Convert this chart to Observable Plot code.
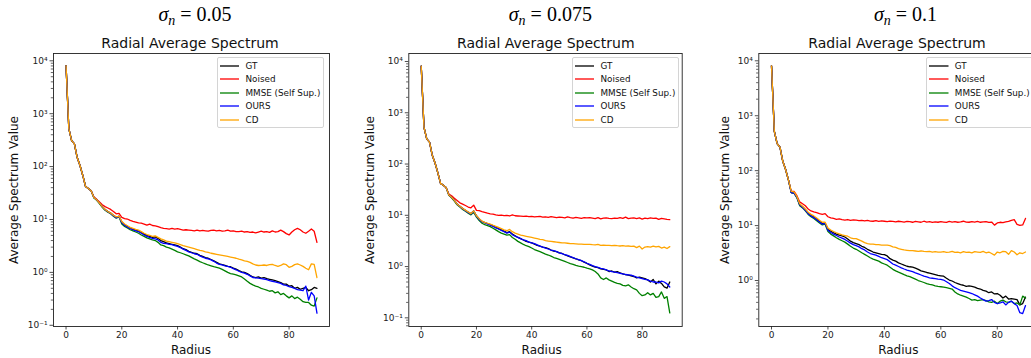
<!DOCTYPE html>
<html>
<head>
<meta charset="utf-8">
<script src="https://cdn.jsdelivr.net/npm/d3@7"></script>
<script src="https://cdn.jsdelivr.net/npm/@observablehq/plot@0.6"></script>
<style>
  html, body { margin: 0; padding: 0; background: #fff; }
  #root { position: relative; width: 1031px; height: 358px; overflow: hidden; background: #fff; }
  .abs { position: absolute; white-space: nowrap; }
  .holder svg { max-width: none !important; display: block; }
  .sigma { font-family: "Liberation Serif", serif; font-size: 20px; line-height: 20px; color: #000; text-align: center; width: 200px; }
  .sigma sub { font-size: 14px; vertical-align: -4px; line-height: 0; }
  .eq { margin: 0 5px; }
  .ttl { font-family: "DejaVu Sans", sans-serif; font-size: 14px; line-height: 14px; color: #111; text-align: center; width: 260px; }
  .alab { font-family: "DejaVu Sans", sans-serif; font-size: 12px; line-height: 14px; color: #111; text-align: center; width: 220px; height: 14px; }
  .legend { font-family: "DejaVu Sans", sans-serif; font-size: 8.8px; color: #111; border: 1px solid #d4d4d4; border-radius: 2px; background: rgba(255,255,255,0.85); box-sizing: border-box; padding: 1px 0 0 2px; }
  .lrow { display: flex; align-items: center; height: 13.45px; }
  .sw { width: 19.5px; height: 4px; margin-right: 6.3px; flex: none; display: block; }
</style>
</head>
<body>
<div id="root"></div>
<script>
// ---------- data ----------
const radius = d3.range(91);
const seriesNames = ["GT", "Noised", "MMSE (Self Sup.)", "OURS", "CD"];
const seriesColors = ["#000000", "#ff0000", "#008000", "#0000ff", "#ffa500"];
const noiseLevels = ["0.05", "0.075", "0.1"];
const xTicks = [0, 20, 40, 60, 80];
const yTickValues = [0.1, 1, 10, 100, 1000, 10000];
const yTickLabels = ["10\u207B\u00B9", "10\u2070", "10\u00B9", "10\u00B2", "10\u00B3", "10\u2074"];

// shared low-radius values (x = 0..6)
const head = [8100, 520, 310, 268, 148, 105, 68];

// ---- sigma = 0.05 (x = 7..90) ----
const gt1Tail = [
42, 38.5, 35,
26, 23.5, 20.5, 17.5, 15.5, 14.2, 13.2, 12.0, 11.0, 11.6,
9.0, 8.0, 7.4, 6.9, 6.6, 6.3, 6.1, 5.7, 5.3, 5.0,
4.8, 4.6, 4.7, 4.4, 4.0, 3.8, 3.6, 3.5, 3.4, 3.3,
3.2, 3.0, 2.8, 2.7, 2.5, 2.4, 2.3, 2.25, 2.1, 2.0,
1.9, 1.85, 1.75, 1.65, 1.55, 1.45, 1.4, 1.35, 1.3, 1.28,
1.2, 1.15, 1.08, 1.02, 1.0, 0.95, 0.88, 0.82, 0.8, 0.82,
0.78, 0.8, 0.76, 0.74, 0.72, 0.7, 0.67, 0.64, 0.6, 0.6,
0.55, 0.56, 0.5, 0.52, 0.48, 0.5, 0.52, 0.45, 0.47, 0.52,
0.5];
const noised1Tail = [
42, 38.5, 35,
26.5, 24, 21.5, 19, 17.5, 16.5, 15.5, 14.2, 12.8, 13.0,
11.0, 10.4, 10.2, 9.6, 9.2, 8.9, 8.6, 8.5, 8.2, 7.8,
8.2, 7.7, 7.6, 7.3, 7.0, 6.8, 6.7, 6.6, 6.8, 6.6,
6.7, 6.5, 6.3, 6.4, 6.3, 6.2, 6.1, 6.3, 6.1, 6.2,
6.1, 6.0, 6.2, 6.3, 6.1, 6.2, 6.0, 6.1, 6.3, 6.0,
6.1, 5.9, 5.9, 6.0, 5.8, 5.9, 5.7, 5.8, 5.6, 5.8,
6.0, 5.8, 5.9, 5.7, 6.1, 5.8, 5.9, 6.3, 5.9, 5.4,
5.1, 5.8, 6.4, 6.8, 6.4, 5.8, 5.5, 6.0, 6.6, 6.0,
3.7];
const mmse1Tail = [
42, 38.5, 35,
25.5, 23, 20, 17, 15.0, 13.8, 12.8, 11.5, 10.6, 11.2,
8.2, 7.4, 6.9, 6.4, 6.1, 5.8, 5.5, 5.1, 4.8, 4.5,
4.3, 4.1, 4.0, 3.7, 3.3, 3.2, 3.0, 2.9, 2.75, 2.6,
2.45, 2.35, 2.25, 2.15, 2.05, 1.92, 1.8, 1.7, 1.6, 1.52,
1.45, 1.38, 1.33, 1.28, 1.24, 1.2, 1.14, 1.07, 1.0, 0.95,
0.93, 0.9, 0.86, 0.82, 0.75, 0.68, 0.62, 0.58, 0.55, 0.53,
0.5, 0.48, 0.46, 0.44, 0.45, 0.41, 0.43, 0.38, 0.4, 0.36,
0.33, 0.36, 0.32, 0.34, 0.31, 0.28, 0.27, 0.27, 0.24, 0.23,
0.33];
const ours1Tail = [
42, 38.5, 35,
26, 23.5, 20.5, 17.5, 15.3, 14.0, 13.0, 11.8, 10.8, 11.4,
8.8, 7.8, 7.2, 6.7, 6.4, 6.1, 5.9, 5.5, 5.1, 4.8,
4.6, 4.4, 4.3, 4.1, 3.7, 3.55, 3.5, 3.4, 3.35, 3.2,
3.1, 2.95, 2.75, 2.6, 2.45, 2.35, 2.25, 2.2, 2.05, 1.95,
1.85, 1.8, 1.72, 1.62, 1.5, 1.42, 1.38, 1.33, 1.3, 1.25,
1.18, 1.12, 1.05, 1.0, 0.97, 0.92, 0.86, 0.8, 0.79, 0.78,
0.76, 0.75, 0.73, 0.7, 0.68, 0.66, 0.64, 0.62, 0.58, 0.57,
0.54, 0.52, 0.5, 0.47, 0.46, 0.45, 0.55, 0.3, 0.42, 0.36,
0.17];
const cd1Tail = [
42, 38.5, 35,
26, 23.5, 20.5, 17.5, 15.5, 14.2, 13.2, 12.0, 11.2, 11.5,
9.2, 8.2, 7.6, 7.1, 6.8, 6.5, 6.3, 5.9, 5.5, 5.2,
5.0, 4.8, 4.9, 4.6, 4.3, 4.1, 3.9, 3.8, 3.7, 3.6,
3.5, 3.35, 3.2, 3.1, 3.0, 2.9, 2.8, 2.7, 2.6, 2.55,
2.45, 2.4, 2.3, 2.25, 2.2, 2.15, 2.1, 2.05, 2.0, 1.95,
1.9, 1.85, 1.78, 1.72, 1.65, 1.62, 1.55, 1.45, 1.38, 1.35,
1.36, 1.38, 1.35, 1.4, 1.42, 1.35, 1.3, 1.35, 1.45, 1.4,
1.25, 1.3, 1.4, 1.45, 1.38, 1.3, 1.2, 1.12, 1.45, 1.42,
0.8];

// ---- sigma = 0.075 (x = 7..90) ----
const gt2Tail = [
42, 38.5, 35,
25, 22.5, 19.5, 16.5, 15.0, 13.5, 12.5, 11.5, 10.8, 12.2,
9.8, 8.5, 7.6, 7.2, 6.9, 6.6, 6.3, 5.9, 5.5, 5.2,
4.9, 4.6, 4.8, 4.3, 4.0, 3.7, 3.5, 3.3, 3.1, 3.0,
2.9, 2.75, 2.6, 2.5, 2.4, 2.35, 2.25, 2.1, 2.0, 1.95,
1.85, 1.8, 1.7, 1.62, 1.55, 1.48, 1.42, 1.35, 1.3, 1.22,
1.15, 1.08, 1.02, 0.98, 0.95, 0.9, 0.88, 0.86, 0.8, 0.82,
0.78, 0.8, 0.75, 0.72, 0.7, 0.68, 0.66, 0.64, 0.6, 0.62,
0.6, 0.58, 0.55, 0.5, 0.56, 0.46, 0.52, 0.47, 0.4, 0.38,
0.5];
const noised2Tail = [
42, 38.5, 35,
26, 24, 21.5, 19.5, 17.5, 16.5, 15.5, 14.5, 14.0, 15.8,
12.5, 12.3, 11.8, 11.4, 11.0, 10.7, 10.5, 10.2, 10.0, 10.1,
9.9, 10.0, 9.7, 10.2, 9.8, 9.7, 9.6, 9.5, 9.6, 9.4,
9.5, 9.3, 9.4, 9.5, 9.2, 9.3, 9.1, 9.4, 9.2, 9.0,
9.2, 9.1, 8.9, 9.3, 9.0, 8.8, 9.1, 8.9, 8.7, 9.0,
8.9, 9.0, 8.8, 8.6, 9.0, 8.5, 8.8, 8.9, 8.7, 8.6,
8.8, 8.7, 9.0, 8.7, 9.2, 8.6, 8.8, 8.9, 8.6, 8.9,
8.4, 8.8, 8.6, 8.9, 8.7, 8.8, 8.3, 8.7, 8.5, 8.3,
8.2];
const mmse2Tail = [
42, 38.5, 35,
24.5, 22, 19, 16, 14.5, 13.0, 12.0, 11.0, 10.2, 11.5,
9.2, 7.9, 7.0, 6.6, 6.3, 6.0, 5.6, 5.2, 4.8, 4.5,
4.3, 4.1, 4.2, 3.7, 3.4, 3.1, 2.9, 2.7, 2.55, 2.45,
2.3, 2.15, 2.05, 1.95, 1.85, 1.75, 1.68, 1.6, 1.5, 1.44,
1.38, 1.32, 1.26, 1.2, 1.14, 1.1, 1.05, 1.02, 1.0, 0.97,
0.93, 0.9, 0.86, 0.8, 0.72, 0.6, 0.56, 0.6, 0.55, 0.52,
0.49, 0.47, 0.46, 0.43, 0.42, 0.44, 0.4, 0.37, 0.35, 0.3,
0.27, 0.28, 0.31, 0.28, 0.3, 0.25, 0.26, 0.32, 0.24, 0.26,
0.125];
const ours2Tail = [
42, 38.5, 35,
25, 22.5, 19.5, 16.5, 14.8, 13.4, 12.3, 11.3, 10.6, 12.0,
9.6, 8.3, 7.5, 7.2, 6.8, 6.4, 6.1, 5.7, 5.4, 5.1,
4.8, 4.5, 4.7, 4.2, 3.9, 3.7, 3.5, 3.3, 3.2, 3.0,
2.9, 2.8, 2.65, 2.5, 2.4, 2.3, 2.2, 2.1, 2.05, 1.95,
1.85, 1.78, 1.7, 1.65, 1.56, 1.5, 1.42, 1.36, 1.3, 1.24,
1.16, 1.1, 1.04, 1.0, 0.96, 0.92, 0.9, 0.86, 0.82, 0.8,
0.78, 0.76, 0.74, 0.72, 0.7, 0.69, 0.68, 0.65, 0.62, 0.6,
0.58, 0.56, 0.55, 0.52, 0.5, 0.5, 0.48, 0.52, 0.5, 0.46,
0.4];
const cd2Tail = [
42, 38.5, 35,
25, 22.5, 19.5, 16.5, 15.0, 13.6, 12.6, 11.6, 10.8, 12.2,
9.8, 8.6, 7.7, 7.3, 7.0, 6.7, 6.4, 6.1, 5.8, 5.5,
5.2, 5.0, 5.3, 4.8, 4.5, 4.3, 4.1, 4.0, 3.9, 3.8,
3.7, 3.6, 3.5, 3.4, 3.35, 3.2, 3.15, 3.1, 3.05, 3.0,
2.95, 2.9, 2.9, 2.85, 2.8, 2.8, 2.78, 2.75, 2.75, 2.7,
2.7, 2.72, 2.68, 2.65, 2.7, 2.6, 2.62, 2.58, 2.6, 2.55,
2.6, 2.55, 2.52, 2.55, 2.5, 2.52, 2.48, 2.5, 2.35, 2.5,
2.2, 2.4, 2.45, 2.4, 2.5, 2.42, 2.48, 2.3, 2.4, 2.25,
2.45];

// ---- sigma = 0.1 (x = 7..90) ----
const gt3Tail = [
40, 39, 33,
24, 22, 19.5, 17, 15.5, 14.5, 13.2, 12.0, 11.0, 11.2,
8.6, 7.9, 7.4, 7.0, 6.7, 6.5, 6.2, 5.7, 5.2, 4.9,
4.7, 4.5, 4.2, 4.0, 3.7, 3.5, 3.3, 3.2, 3.1, 3.0,
2.95, 2.8, 2.5, 2.35, 2.25, 2.1, 2.0, 1.9, 1.82, 1.78,
1.75, 1.68, 1.6, 1.5, 1.45, 1.4, 1.36, 1.32, 1.28, 1.24,
1.22, 1.2, 1.1, 1.02, 0.98, 0.92, 0.88, 0.84, 0.82, 0.78,
0.8, 0.78, 0.76, 0.72, 0.7, 0.66, 0.64, 0.6, 0.62, 0.57,
0.58, 0.54, 0.48, 0.52, 0.46, 0.47, 0.46, 0.45, 0.36, 0.38,
0.5];
const noised3Tail = [
42, 42, 35,
27, 25, 23, 20, 18.5, 17.8, 17.2, 16.5, 16.0, 16.5,
14.5, 13.8, 13.5, 13.0, 13.2, 12.8, 12.6, 12.9, 12.5, 12.7,
12.6, 12.3, 12.5, 12.2, 12.4, 12.1, 12.0, 12.3, 11.9, 12.2,
12.0, 11.8, 12.1, 11.9, 11.7, 12.0, 11.8, 11.6, 11.9, 11.8,
11.5, 11.9, 11.7, 11.5, 12.0, 11.6, 11.8, 11.4, 11.7, 11.5,
11.8, 11.6, 11.4, 11.9, 11.6, 11.8, 11.5, 11.7, 12.0, 11.6,
11.5, 11.8, 11.6, 11.9, 11.5, 11.7, 11.8, 11.4, 11.6, 10.2,
11.2, 11.5, 11.3, 11.7, 11.9, 12.4, 12.8, 10.5, 10.1, 10.3,
13.5];
const mmse3Tail = [
40, 39, 32,
23, 21, 18.5, 16, 14.5, 13.5, 12.3, 11.2, 10.3, 10.6,
7.8, 7.0, 6.5, 6.0, 5.6, 5.3, 5.0, 4.6, 4.2, 3.9,
3.7, 3.45, 3.2, 3.0, 2.8, 2.6, 2.45, 2.35, 2.25, 2.1,
2.0, 1.9, 1.75, 1.6, 1.5, 1.42, 1.35, 1.28, 1.22, 1.18,
1.12, 1.06, 1.0, 0.96, 0.92, 0.88, 0.85, 0.83, 0.8, 0.78,
0.77, 0.76, 0.74, 0.72, 0.7, 0.62, 0.57, 0.54, 0.52, 0.5,
0.47, 0.44, 0.45, 0.43, 0.44, 0.45, 0.43, 0.41, 0.4, 0.42,
0.38, 0.42, 0.44, 0.41, 0.4, 0.42, 0.38, 0.39, 0.36, 0.52,
0.48];
const ours3Tail = [
40, 39, 33,
24, 21.5, 19, 16.5, 15, 14, 12.8, 11.6, 10.6, 11.0,
8.2, 7.5, 7.0, 6.6, 6.2, 5.9, 5.6, 5.2, 4.8, 4.5,
4.3, 4.1, 3.8, 3.6, 3.3, 3.1, 3.0, 2.9, 2.75, 2.6,
2.5, 2.4, 2.2, 2.0, 1.9, 1.8, 1.7, 1.62, 1.55, 1.5,
1.45, 1.38, 1.32, 1.26, 1.2, 1.16, 1.12, 1.1, 1.08, 1.06,
1.05, 1.02, 0.95, 0.88, 0.8, 0.74, 0.7, 0.66, 0.64, 0.62,
0.6, 0.58, 0.55, 0.52, 0.48, 0.45, 0.42, 0.43, 0.45, 0.4,
0.38, 0.39, 0.41, 0.36, 0.4, 0.42, 0.38, 0.35, 0.26, 0.25,
0.35];
const cd3Tail = [
42, 41, 34,
25, 22.5, 20, 17.5, 16, 15, 13.8, 12.5, 11.5, 11.5,
9.0, 8.3, 7.8, 7.4, 7.1, 6.8, 6.6, 6.4, 6.0, 5.8,
5.8, 5.5, 5.2, 4.9, 4.7, 4.6, 4.6, 4.5, 4.5, 4.4,
4.4, 4.4, 4.3, 4.1, 4.0, 3.8, 3.7, 3.6, 3.55, 3.5,
3.5, 3.45, 3.4, 3.45, 3.38, 3.35, 3.4, 3.3, 3.35, 3.3,
3.3, 3.35, 3.25, 3.3, 3.4, 3.25, 3.3, 3.2, 3.35, 3.25,
3.3, 3.2, 3.35, 3.3, 3.25, 3.4, 3.2, 3.3, 3.1, 2.9,
3.3, 3.2, 3.4, 3.35, 3.0, 3.5, 3.3, 2.95, 3.2, 3.1,
3.3];

const panelSeries = [
  [gt1Tail, noised1Tail, mmse1Tail, ours1Tail, cd1Tail],
  [gt2Tail, noised2Tail, mmse2Tail, ours2Tail, cd2Tail],
  [gt3Tail, noised3Tail, mmse3Tail, ours3Tail, cd3Tail]
].map(p => p.map(t => head.concat(t)));

// ---------- layout ----------
const layout = [
  {left: 0,   width: 345, ml: 53, mr: 16,   ydom: [Math.pow(10, -1.023), Math.pow(10, 4.138)], sigmaX: 195,   titleX: 190, ylabX: 14.3,  xlabX: 191,   legX: 216.7},
  {left: 345, width: 345, ml: 63.3, mr: 8.3, ydom: [Math.pow(10, -1.169), Math.pow(10, 4.156)], sigmaX: 550.3, titleX: 545.8, ylabX: 370, xlabX: 541.7, legX: 571.7},
  {left: 690, width: 360, ml: 68.3, mr: 12.3, ydom: [Math.pow(10, -0.837), Math.pow(10, 4.133)], sigmaX: 905.5, titleX: 897, ylabX: 725, xlabX: 898.3, legX: 926}
];

const root = document.getElementById("root");
function addDiv(cls, html, css) {
  const d = document.createElement("div");
  d.className = "abs " + cls;
  d.innerHTML = html;
  Object.assign(d.style, css);
  root.appendChild(d);
  return d;
}

panelSeries.forEach((vals, p) => {
  const L = layout[p];
  const rows = [];
  seriesNames.forEach((name, s) => vals[s].forEach((v, i) => rows.push({r: radius[i], v, s: name})));
  const [lo, hi] = L.ydom;
  const minor = [];
  for (let k = -2; k <= 4; k++) for (let m = 2; m <= 9; m++) {
    const t = m * Math.pow(10, k);
    if (t >= lo && t <= hi) minor.push(t);
  }
  const majors = yTickValues.filter(t => t >= lo && t <= hi);
  const chart = Plot.plot({
    width: L.width,
    height: 358,
    marginTop: 53,
    marginBottom: 32,
    marginLeft: L.ml,
    marginRight: L.mr,
    style: {fontFamily: "DejaVu Sans, sans-serif", fontSize: "9px", color: "#222", background: "transparent", overflow: "visible", maxWidth: "none"},
    x: {domain: [-4.5, 94.5], label: null},
    y: {type: "log", domain: L.ydom, label: null},
    marks: [
      Plot.axisY({ticks: minor, tickSize: 2.2, tickFormat: () => "", label: null, strokeWidth: 0.7}),
      Plot.axisY({ticks: majors, tickSize: 3.5, tickPadding: 2.5, tickFormat: d => yTickLabels[yTickValues.indexOf(d)], label: null, strokeWidth: 0.8}),
      Plot.axisX({ticks: xTicks, tickSize: 3.5, tickPadding: 2, label: null, strokeWidth: 0.8}),
      ...seriesNames.map((name, s) => Plot.line(rows.filter(d => d.s === name), {x: "r", y: "v", stroke: seriesColors[s], strokeWidth: 1.3})),
      Plot.frame({stroke: "#222", strokeWidth: 0.9})
    ]
  });
  const holder = document.createElement("div");
  holder.className = "abs holder";
  holder.style.left = L.left + "px";
  holder.style.top = "0px";
  holder.style.width = L.width + "px";
  holder.style.height = "358px";
  holder.appendChild(chart);
  root.appendChild(holder);

  // titles and axis labels
  addDiv("sigma", '<i>σ</i><sub><i>n</i></sub><span class="eq">=</span>' + noiseLevels[p], {left: (L.sigmaX - 100) + "px", top: "4px"});
  addDiv("ttl", "Radial Average Spectrum", {left: (L.titleX - 130) + "px", top: "36px"});
  addDiv("alab", "Average Spectrum Value", {left: (L.ylabX - 110) + "px", top: (190 - 7) + "px", transform: "rotate(-90deg)"});
  addDiv("alab", "Radius", {left: (L.xlabX - 110) + "px", top: "343px"});

  // legend
  const leg = addDiv("legend", "", {left: L.legX + "px", top: "57.3px", width: "107.3px", height: "70.4px"});
  seriesNames.forEach((name, s) => {
    const r = document.createElement("div");
    r.className = "lrow";
    r.innerHTML = '<svg class="sw" width="19.5" height="4"><line x1="0" x2="19.5" y1="2" y2="2" stroke="' + seriesColors[s] + '" stroke-width="1.3"/></svg><span>' + name + '</span>';
    leg.appendChild(r);
  });
});
</script>
</body>
</html>
